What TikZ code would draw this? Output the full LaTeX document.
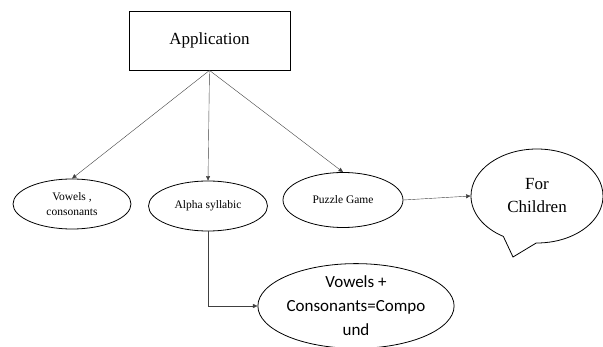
\documentclass[tikz,border=0pt]{standalone}
\usepackage{fontspec}
\setmainfont{Liberation Serif}
\newfontfamily\calibri{Carlito}
\newfontfamily\bubblefont{Liberation Serif}
\usetikzlibrary{shapes.geometric,shapes.callouts,arrows.meta}

\tikzset{
  oval/.style={draw, thick, ellipse, inner sep=0pt, align=center, font=\fontsize{11.5}{15}\selectfont},
  link/.style={draw=black!75, -{Triangle[length=4.5pt,width=4pt]}}
}

\begin{document}
\begin{tikzpicture}[x=1pt,y=-1pt]
  \useasboundingbox (0,0) rectangle (603,347);

  \node[draw, thick, minimum width=161pt, minimum height=59pt, font=\fontsize{17}{20}\selectfont] (app) at (209.5,40.5) {Application};

  % the three branches
  \node[oval, minimum width=118pt, minimum height=50pt] (vow) at (72,204) {Vowels ,\\consonants};
  \node[oval, minimum width=119pt, minimum height=50pt] (alpha) at (208,206) {Alpha syllabic};
  \node[oval, minimum width=120pt, minimum height=55pt] (puzzle) at (343,200) {Puzzle Game};

  \foreach \n in {vow, alpha, puzzle} {
    \draw[link] (app.south) -- (\n.north);
  }

  % speech bubble
  \node[draw, thick, ellipse callout, inner sep=0pt, minimum width=132pt, minimum height=94pt,
        callout absolute pointer={(513,257)}, callout pointer arc=30, align=center,
        font=\bubblefont\fontsize{17}{23}\selectfont] (kids) at (537,196) {For\\Children};
  \draw[link] (puzzle.east) -- (kids.west);

  % compound letters
  \node[oval, minimum width=186pt, minimum height=80pt, font=\calibri\fontsize{17}{24}\selectfont] (comp) at (356,306) {Vowels +\\Consonants=Compo\\und};
  \draw[link] (alpha.south) |- (comp.west);
\end{tikzpicture}
\end{document}
